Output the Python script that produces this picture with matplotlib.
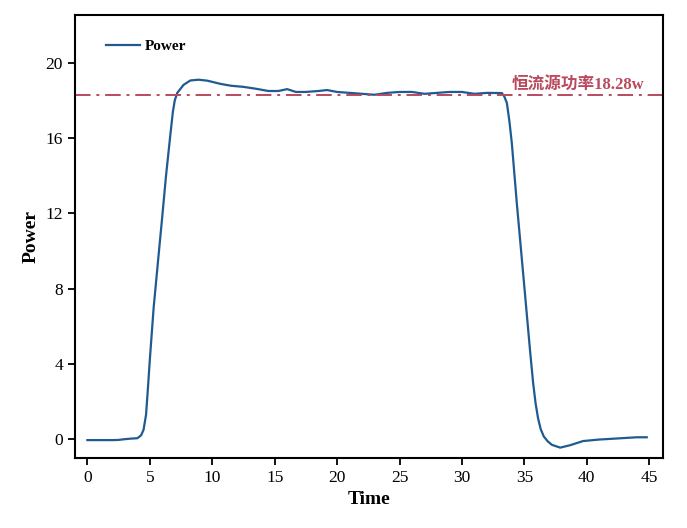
import matplotlib
matplotlib.use("Agg")
import matplotlib.pyplot as plt

# Values
time = [0, 1, 2, 2.5, 3, 3.5, 4.0, 4.3, 4.5, 4.7, 4.85, 5.0, 5.31, 5.65, 5.98, 6.3, 6.65,
        6.85, 7.0, 7.2, 7.71, 8.25, 8.9, 9.6, 10.65, 11.5, 12.5, 13.5, 14.5, 15.3, 16.0,
        16.7, 17.5, 18.5, 19.2, 20.0, 21.0, 22.0, 23.0, 24.0, 25.0, 26.0, 27.0, 28.0, 29.0,
        30.0, 30.5, 31.0, 32.0, 33.2, 33.4, 33.6, 33.8, 34.0, 34.4, 34.93, 35.2, 35.47,
        35.7, 35.9, 36.1, 36.3, 36.55, 36.85, 37.2, 37.87, 38.67, 39.7, 41.0, 42.0, 43.0,
        44.0, 44.8]
power = [-0.05, -0.05, -0.05, -0.04, 0.0, 0.03, 0.05, 0.2, 0.5, 1.3, 2.7, 4.2, 7.0, 9.4,
         11.7, 14.0, 16.2, 17.4, 18.0, 18.4, 18.83, 19.06, 19.1, 19.05, 18.88, 18.78,
         18.72, 18.62, 18.5, 18.5, 18.6, 18.45, 18.45, 18.5, 18.55, 18.45, 18.4, 18.35,
         18.3, 18.4, 18.45, 18.45, 18.35, 18.4, 18.45, 18.45, 18.4, 18.35, 18.4, 18.39,
         18.2, 17.86, 16.9, 15.7, 12.5, 8.6, 6.6, 4.6, 3.0, 1.9, 1.1, 0.55, 0.15, -0.1,
         -0.3, -0.45, -0.32, -0.1, -0.02, 0.02, 0.06, 0.1, 0.1]

source_power = 18.28
source_label = "恒流源功率18.28w"

fig = plt.figure(figsize=(6.87, 5.28), dpi=100)
ax = fig.add_axes([0.109, 0.1326, 0.856, 0.8394])

ax.plot(time, power, color="#1f5b91", lw=1.6, label="Power")
ax.axhline(source_power, color="#b94a5e", lw=1.4, ls=(0, (8, 3, 1.5, 3)))
ax.text(44.6, source_power + 0.15, source_label, color="#b94a5e", ha="right", va="bottom",
        fontsize=12, fontweight="bold", family=["Liberation Serif", "Noto Sans CJK SC"])

ax.set_xlim(-1, 46.1)
ax.set_ylim(-1.0, 22.55)
ax.set_xticks(range(0, 50, 5))
ax.set_yticks([0, 4, 8, 12, 16, 20])

for s in ax.spines.values():
    s.set_linewidth(1.5)
ax.tick_params(direction="out", length=5, width=1.3, labelsize=12.5)
for lab in ax.get_xticklabels() + ax.get_yticklabels():
    lab.set_family("Liberation Serif")

ax.set_xlabel("Time", fontsize=14, fontweight="bold", family="Liberation Serif")
ax.set_ylabel("Power", fontsize=14, fontweight="bold", family="Liberation Serif")

leg = ax.legend(loc="upper left", frameon=False, bbox_to_anchor=(0.03, 0.975),
                prop={"family": "Liberation Serif", "weight": "bold", "size": 11},
                handlelength=2.2, handletextpad=0.3)

fig.savefig("out.png", dpi=100)
